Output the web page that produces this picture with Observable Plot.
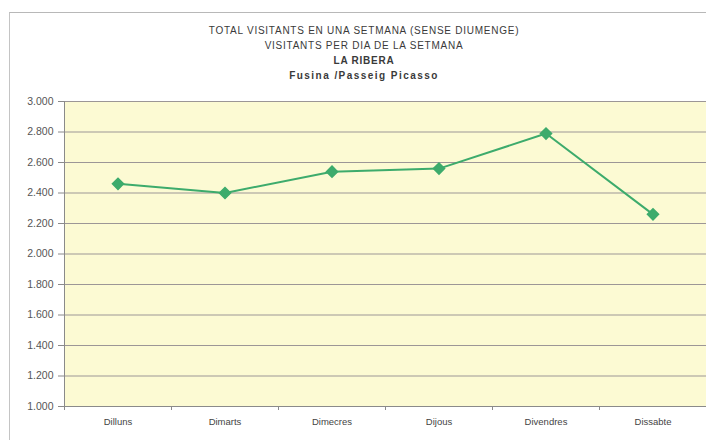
<!DOCTYPE html>
<html>
<head>
<meta charset="utf-8">
<script src="https://cdn.jsdelivr.net/npm/d3@7"></script>
<script src="https://cdn.jsdelivr.net/npm/@observablehq/plot@0.6"></script>
<style>
  html, body { margin: 0; padding: 0; background: #fff; }
  #wrap { position: relative; width: 706px; height: 440px; overflow: hidden; font-family: "Liberation Sans", Arial, sans-serif; }
  #frame { position: absolute; left: 9px; top: 12px; width: 720px; height: 460px; border-left: 1px solid #c4c4c4; border-top: 1px solid #b8b8b8; }
  #title { position: absolute; left: 114px; width: 500px; top: 23px; text-align: center; font-size: 10px; color: #3a3a3a; line-height: 15px; letter-spacing: 0.75px; }
  #title .b { font-weight: bold; }
  #title .w { letter-spacing: 1.45px; }
  #chart { position: absolute; left: 0; top: 0; }
</style>
</head>
<body>
<div id="wrap">
  <div id="frame"></div>
  <div id="title">
    <div>TOTAL VISITANTS EN UNA SETMANA (SENSE DIUMENGE)</div>
    <div>VISITANTS PER DIA DE LA SETMANA</div>
    <div class="b">LA RIBERA</div>
    <div class="b w">Fusina /Passeig Picasso</div>
  </div>
  <div id="chart"></div>
</div>
<script>
const days = ["Dilluns", "Dimarts", "Dimecres", "Dijous", "Divendres", "Dissabte"];
const visitants = [2460, 2400, 2540, 2560, 2790, 2260];
const yTicks = [1000, 1200, 1400, 1600, 1800, 2000, 2200, 2400, 2600, 2800, 3000];

const data = days.map((d, i) => ({day: d, pos: i + 0.5, value: visitants[i]}));
const fmt = d3.formatLocale({decimal: ",", thousands: ".", grouping: [3], currency: ["", ""]}).format(",");

const chart = Plot.plot({
  width: 706,
  height: 440,
  marginLeft: 64,
  marginRight: 0,
  marginTop: 101,
  marginBottom: 34,
  style: {background: "transparent", fontFamily: "Liberation Sans, Arial, sans-serif", fontSize: "9.5px", color: "#555"},
  x: {domain: [0, days.length], axis: null},
  y: {domain: [1000, 3000], axis: null},
  marks: [
    Plot.frame({fill: "#fcfad3", stroke: "none"}),
    Plot.ruleY(yTicks.filter(t => t > 1000), {stroke: "#9c9696", strokeWidth: 1}),
    Plot.frame({anchor: "left", stroke: "#8a8a8a"}),
    Plot.frame({anchor: "bottom", stroke: "#8a8a8a"}),
    Plot.axisY({ticks: yTicks, tickFormat: fmt, tickSize: 6, tickPadding: 5, stroke: "#8a8a8a", fill: "#555", fontSize: 10.5, label: null}),
    Plot.axisX({ticks: d3.range(0, days.length + 1), tickFormat: () => "", tickSize: 4, stroke: "#8a8a8a", label: null}),
    Plot.axisX({ticks: data.map(d => d.pos), tickFormat: (v) => days[Math.floor(v)], tickSize: 0, tickPadding: 12, fill: "#444", label: null}),
    Plot.line(data, {x: "pos", y: "value", stroke: "#3dab6c", strokeWidth: 2}),
    Plot.dot(data, {x: "pos", y: "value", symbol: "diamond2", r: 5, fill: "#3dab6c", stroke: "#3dab6c"})
  ]
});
document.getElementById("chart").appendChild(chart);
</script>
</body>
</html>
